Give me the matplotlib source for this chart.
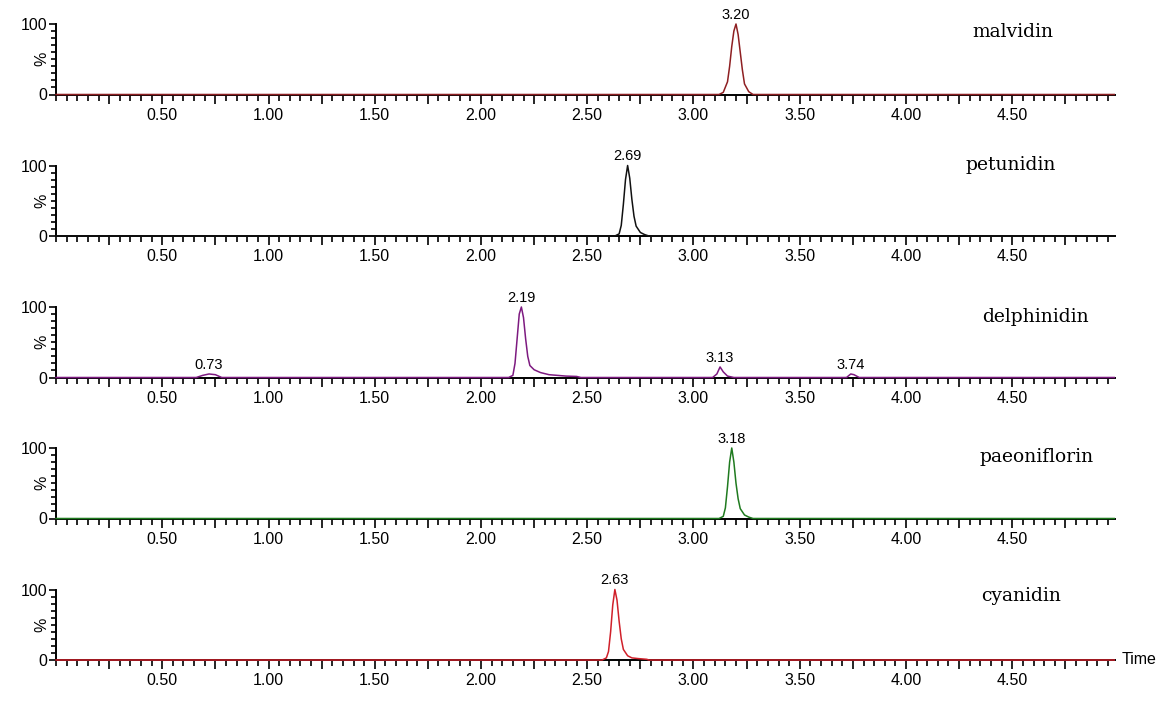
import matplotlib
matplotlib.use("Agg")
import matplotlib.pyplot as plt
from matplotlib.ticker import FixedLocator, MultipleLocator, NullFormatter

# ---------------- data ----------------
compounds = ["malvidin", "petunidin", "delphinidin", "paeoniflorin", "cyanidin"]

malvidin_t = [0.00, 3.12, 3.14, 3.16, 3.17, 3.18, 3.19, 3.20, 3.21, 3.22, 3.23, 3.24, 3.26, 3.28, 4.98]
malvidin_i = [0, 0, 3, 18, 40, 68, 90, 100, 85, 60, 35, 15, 4, 0, 0]

petunidin_t = [0.00, 2.63, 2.65, 2.66, 2.67, 2.68, 2.69, 2.70, 2.71, 2.72, 2.73, 2.75, 2.77, 2.79, 4.98]
petunidin_i = [0, 0, 3, 15, 45, 80, 100, 82, 52, 28, 14, 5, 2, 0, 0]

delphinidin_t = [0.00, 0.66, 0.69, 0.72, 0.75, 0.78, 2.13, 2.15, 2.16, 2.17, 2.18, 2.19,
                 2.20, 2.21, 2.22, 2.23, 2.25, 2.28, 2.32, 2.36, 2.40, 2.45, 2.47,
                 3.09, 3.11, 3.125, 3.14, 3.16, 3.19, 3.72, 3.74, 3.755, 3.78, 4.98]
delphinidin_i = [0, 0, 3, 5, 4, 0, 0, 3, 20, 55, 90, 100,
                 85, 55, 30, 17, 11, 7, 4, 3, 2, 1.5, 0,
                 0, 5, 15, 8, 2, 0, 0, 5, 4, 0, 0]

paeoniflorin_t = [0.00, 3.12, 3.14, 3.15, 3.16, 3.17, 3.18, 3.19, 3.20, 3.21, 3.22, 3.24, 3.26, 3.28, 4.98]
paeoniflorin_i = [0, 0, 3, 15, 45, 80, 100, 80, 50, 28, 14, 5, 2, 0, 0]

cyanidin_t = [0.00, 2.57, 2.59, 2.60, 2.61, 2.62, 2.63, 2.64, 2.65, 2.66, 2.67, 2.69, 2.71, 2.74, 2.78, 2.79, 4.98]
cyanidin_i = [0, 0, 3, 12, 40, 78, 100, 85, 55, 30, 15, 6, 3, 2, 1, 0, 0]

# peak annotations: (time, height, label)
malvidin_peaks = [(3.20, 100, "3.20")]
petunidin_peaks = [(2.69, 100, "2.69")]
delphinidin_peaks = [(0.72, 5, "0.73"), (2.19, 100, "2.19"), (3.125, 15, "3.13"), (3.74, 5, "3.74")]
paeoniflorin_peaks = [(3.18, 100, "3.18")]
cyanidin_peaks = [(2.63, 100, "2.63")]

xtick_values = [0.50, 1.00, 1.50, 2.00, 2.50, 3.00, 3.50, 4.00, 4.50]
xtick_labels = ["0.50", "1.00", "1.50", "2.00", "2.50", "3.00", "3.50", "4.00", "4.50"]
ytick_values = [0, 100]
ytick_labels = ["0", "100"]

# ---------------- styling ----------------
colors = ["#8e1f22", "#111111", "#7d1a80", "#1f7a1f", "#d0202a"]
name_pos = [(4.31, 82), (4.278, 94), (4.358, 79), (4.348, 80.5), (4.353, 83.5)]

series = [
    (malvidin_t, malvidin_i, malvidin_peaks),
    (petunidin_t, petunidin_i, petunidin_peaks),
    (delphinidin_t, delphinidin_i, delphinidin_peaks),
    (paeoniflorin_t, paeoniflorin_i, paeoniflorin_peaks),
    (cyanidin_t, cyanidin_i, cyanidin_peaks),
]

W, H = 1170, 703
fig = plt.figure(figsize=(W / 100, H / 100), dpi=100)

sans = ["Liberation Sans", "DejaVu Sans"]
serif = ["DejaVu Serif"]

x0_px = 56
xmax = 4.985
px_per_unit = 212.5
width_px = xmax * px_per_unit
zero_lines = [94.5, 236.0, 377.5, 518.5, 660.0]
height_px = 70.5

major_x = [0.25 * k for k in range(1, 20)]

for idx, ((t, inten, peaks), name, col, zl) in enumerate(zip(series, compounds, colors, zero_lines)):
    ax = fig.add_axes([x0_px / W, 1 - zl / H, width_px / W, height_px / H])
    ax.set_xlim(0, xmax)
    ax.set_ylim(0, 100)
    for s in ["top", "right"]:
        ax.spines[s].set_visible(False)
    for s in ["left", "bottom"]:
        ax.spines[s].set_linewidth(1.4)
        ax.spines[s].set_color("black")

    ax.plot(t, inten, color=col, lw=1.1, clip_on=False, zorder=5)

    # x ticks
    ax.xaxis.set_major_locator(FixedLocator(major_x))
    ax.xaxis.set_minor_locator(MultipleLocator(0.05))
    lab = []
    for v in major_x:
        found = ""
        for tv, tl in zip(xtick_values, xtick_labels):
            if abs(tv - v) < 1e-6:
                found = tl
        lab.append(found)
    ax.set_xticklabels(lab)
    ax.tick_params(axis="x", which="major", length=6.5, width=1.2, direction="out",
                   labelsize=11.5, pad=3)
    ax.tick_params(axis="x", which="minor", length=4, width=1.2, direction="out")

    # y ticks
    ax.set_yticks(ytick_values)
    ax.set_yticklabels(ytick_labels)
    ax.yaxis.set_minor_locator(MultipleLocator(10))
    ax.yaxis.set_minor_formatter(NullFormatter())
    ax.tick_params(axis="y", which="major", length=5, width=1.2, labelsize=11.5, pad=1)
    ax.tick_params(axis="y", which="minor", length=3.5, width=1.2)
    for lbl in ax.get_xticklabels() + ax.get_yticklabels():
        lbl.set_family(sans)

    ax.text(-0.0135, 0.5, "%", transform=ax.transAxes, family=sans, fontsize=11.5,
            rotation=90, ha="center", va="center")

    for (pt, ph, pl) in peaks:
        ax.annotate(pl, xy=(pt, ph), xytext=(0, 1.5), textcoords="offset points",
                    ha="center", va="bottom", fontsize=10.5, family=sans, clip_on=False)

    nx, ny = name_pos[idx]
    ax.text(nx, ny, name, fontsize=13.5, family=serif, ha="left", va="baseline")

    if idx == len(series) - 1:
        ax.text(1.006, 0.0, "Time", transform=ax.transAxes, fontsize=11.5, family=sans,
                ha="left", va="center")

fig.savefig("out.png", dpi=100)
